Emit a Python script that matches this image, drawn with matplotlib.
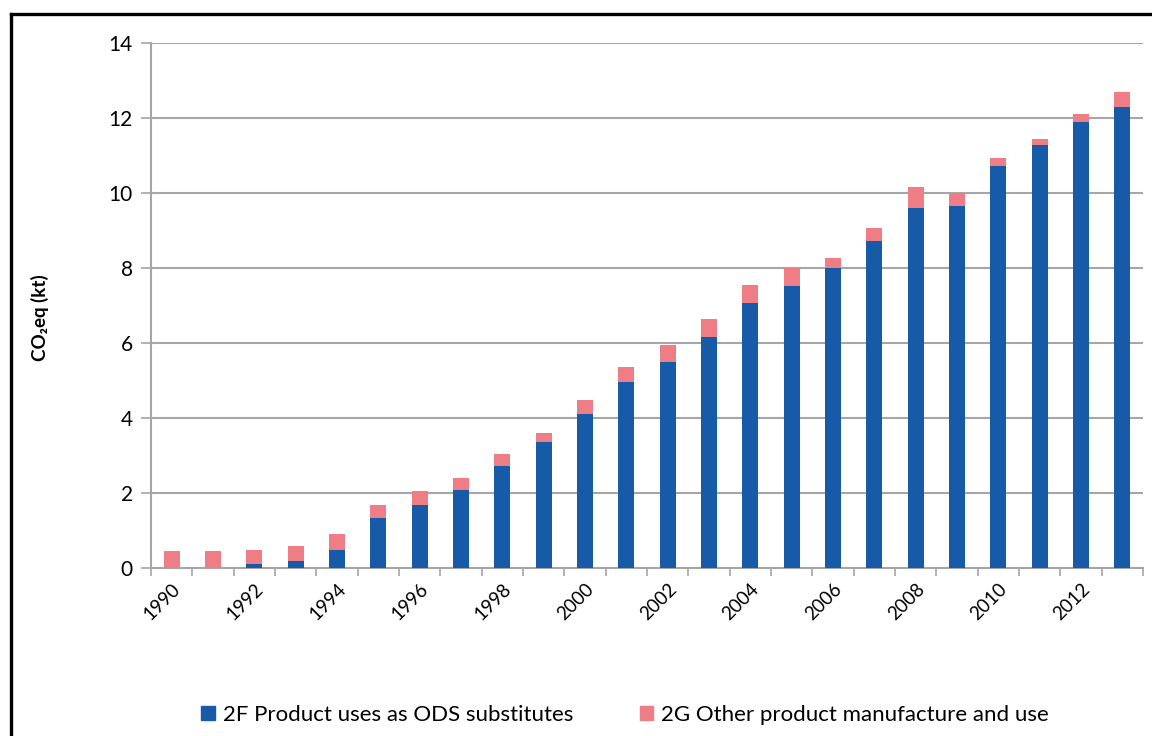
import matplotlib.pyplot as plt
from matplotlib.lines import Line2D
from matplotlib.patches import Patch
import numpy as np

plt.rcParams['font.family'] = ['Lato', 'DejaVu Sans']

years = list(range(1990, 2014))
ods_substitutes = [0.0, 0.0, 0.10, 0.18, 0.49, 1.34, 1.69, 2.09, 2.72, 3.35,
                   4.11, 4.96, 5.50, 6.17, 7.06, 7.51, 8.00, 8.71, 9.61, 9.65,
                   10.73, 11.27, 11.89, 12.29]
totals = [0.44, 0.44, 0.49, 0.59, 0.90, 1.69, 2.06, 2.40, 3.03, 3.61,
          4.47, 5.36, 5.94, 6.65, 7.54, 7.99, 8.27, 9.07, 10.15, 10.00,
          10.94, 11.43, 12.10, 12.69]
other_products = [round(t - b, 2) for t, b in zip(totals, ods_substitutes)]

label_2f = "2F Product uses as ODS substitutes"
label_2g = "2G Other product manufacture and use"
blue = "#175AA8"
pink = "#EE7D86"
grey = "#A6A6A6"

fig = plt.figure(figsize=(11.52, 7.36), dpi=100)
ax = fig.add_axes([0.1311, 0.2283, 0.8611, 0.7133])

x = np.arange(len(years))
ax.bar(x, ods_substitutes, width=0.39, color=blue, zorder=3)
ax.bar(x, other_products, width=0.39, bottom=ods_substitutes, color=pink, zorder=3)

ax.set_xlim(-0.5, len(years) - 0.5)
ax.set_ylim(0, 14)
ax.set_yticks(range(0, 15, 2))
ax.yaxis.grid(True, color=grey, linewidth=1.5, zorder=0)

# year labels on every other bar, tick marks between categories
ax.set_xticks(x[::2])
ax.set_xticklabels([str(y) for y in years[::2]], rotation=45, ha='right',
                   rotation_mode='anchor', fontsize=13.5)
ax.set_xticks(np.arange(-0.5, len(years), 1), minor=True)
ax.tick_params(axis='x', which='major', length=0, pad=9)
ax.tick_params(axis='x', which='minor', length=6, width=1.2, color=grey)
ax.tick_params(axis='y', length=7, width=1.2, color=grey, labelsize=15, pad=6)

for side in ['top', 'right']:
    ax.spines[side].set_visible(False)
for side in ['left', 'bottom']:
    ax.spines[side].set_color(grey)
    ax.spines[side].set_linewidth(1.5)

fig.text(40 / 1152, 1 - 318 / 736, "CO₂eq (kt)", rotation=90, ha='center',
         va='center', fontsize=13.5, fontweight='bold')

handles = [Patch(color=blue), Patch(color=pink)]
fig.legend(handles, [label_2f, label_2g], loc='center', ncol=2, frameon=False,
           bbox_to_anchor=(0.5425, 1 - 715 / 736), fontsize=16,
           handlelength=0.6, handleheight=0.6, handletextpad=0.35,
           columnspacing=3.0)

# outer frame (only top and left edges are inside the image)
fig.add_artist(Line2D([11 / 1152, 11 / 1152], [0, 1 - 14 / 736],
                      transform=fig.transFigure, color='black', linewidth=2.4))
fig.add_artist(Line2D([11 / 1152, 1], [1 - 14 / 736, 1 - 14 / 736],
                      transform=fig.transFigure, color='black', linewidth=2.4))

fig.savefig("out.png", dpi=100)
